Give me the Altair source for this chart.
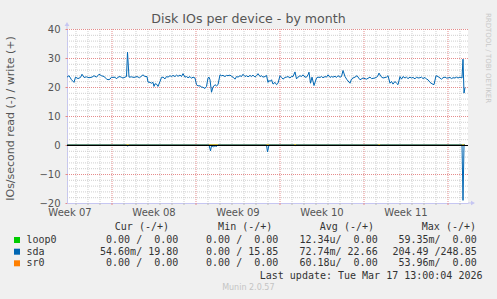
import altair as alt
import pandas as pd

# ---------------- data ----------------
title_text = "Disk IOs per device - by month"
y_title = "IOs/second read (-) / write (+)"
watermark = "RRDTOOL / TOBI OETIKER"
last_update = "Last update: Tue Mar 17 13:00:04 2026"
footer = "Munin 2.0.57"

# time axis: hours since Mon 2026-02-09 00:00 (start of ISO week 07)
x_domain = [79, 881]

# sda write (+)
write_hours = [79, 83, 88, 93, 96, 101, 106, 109, 113, 118, 123, 129, 133, 138, 143, 148, 153, 158, 161, 165,
               168, 171, 175, 178, 181, 185, 188, 191, 195, 198, 200, 203, 208, 213, 219, 224, 229, 231, 235, 239,
               241, 245, 248, 251, 253, 255, 258, 261, 265, 268, 271, 275, 278, 281, 285, 288, 291, 295, 298, 301,
               305, 308, 311, 315, 318, 321, 325, 328, 331, 335, 338, 341, 345, 348, 351, 355, 358, 361, 363, 365,
               368, 371, 375, 378, 381, 385, 388, 391, 395, 398, 401, 405, 408, 411, 415, 418, 421, 425, 428, 431,
               435, 438, 441, 445, 448, 451, 455, 458, 461, 465, 468, 471, 475, 478, 481, 483, 485, 488, 491, 495,
               498, 501, 505, 508, 511, 515, 518, 521, 525, 528, 531, 535, 538, 541, 545, 548, 551, 555, 558, 561,
               563, 566, 569, 573, 578, 581, 585, 588, 591, 595, 598, 601, 605, 608, 611, 615, 618, 621, 625, 628,
               631, 635, 639, 645, 648, 651, 655, 659, 665, 671, 678, 685, 688, 695, 700, 703, 707, 711, 718, 721,
               725, 728, 731, 735, 738, 741, 745, 748, 751, 755, 758, 761, 765, 768, 771, 775, 778, 781, 785, 788,
               791, 795, 798, 801, 805, 809, 813, 817, 821, 825, 828, 831, 835, 838, 841, 845, 848, 851, 855, 858,
               861, 865, 869, 871, 873, 875]
write_vals = [23.4, 23.9, 22.5, 21.6, 23.4, 22.9, 23.3, 24.4, 23.3, 23.5, 23.2, 23.4, 23.9, 23.4, 24.4, 23.9, 23.6, 22.8, 22.5, 22.7,
              23.4, 23.3, 23.4, 22.8, 23.4, 23.6, 23.3, 23.1, 23.4, 23.6, 32.0, 23.4, 23.5, 23.3, 23.6, 23.2, 23.9, 24.2, 23.6, 23.6,
              21.7, 21.6, 21.3, 21.6, 20.2, 21.1, 21.0, 20.2, 21.9, 23.3, 23.4, 22.8, 23.6, 23.4, 23.9, 23.6, 24.0, 23.6, 24.1, 23.7,
              24.1, 23.6, 24.6, 23.4, 23.6, 23.2, 23.6, 23.0, 23.4, 23.1, 20.8, 20.4, 20.4, 20.0, 19.9, 19.5, 20.2, 23.1, 23.4, 22.5,
              18.2, 20.0, 20.8, 20.4, 20.8, 24.2, 23.9, 24.0, 23.6, 24.0, 23.9, 24.1, 23.7, 23.4, 22.7, 23.6, 23.4, 23.9, 23.6, 24.4,
              23.6, 23.9, 23.5, 24.0, 23.6, 24.1, 23.4, 23.9, 24.6, 23.6, 23.9, 23.4, 23.6, 24.0, 21.6, 22.3, 21.9, 22.5, 21.0, 21.6,
              20.8, 21.3, 23.9, 23.3, 22.7, 23.3, 23.4, 23.6, 23.1, 23.7, 23.6, 25.2, 22.8, 23.4, 23.9, 23.6, 24.2, 23.4, 23.4, 24.2,
              25.1, 21.3, 23.4, 20.5, 23.1, 23.4, 23.3, 23.6, 23.2, 23.6, 23.4, 24.2, 23.3, 23.6, 23.4, 23.7, 23.3, 23.9, 23.4, 23.6,
              25.7, 23.6, 22.5, 21.3, 22.7, 23.1, 23.4, 23.9, 22.5, 23.1, 22.7, 23.4, 22.9, 23.1, 23.6, 24.8, 23.6, 23.1, 23.4, 23.9,
              21.3, 21.9, 21.0, 21.9, 21.3, 20.8, 23.6, 22.7, 23.6, 23.1, 23.4, 22.9, 23.4, 23.1, 23.3, 22.8, 23.4, 23.1, 23.2, 23.4,
              22.9, 23.3, 22.7, 22.5, 21.6, 21.1, 20.8, 23.9, 23.6, 23.1, 22.7, 23.2, 23.4, 23.1, 23.1, 23.3, 22.9, 23.2, 23.1, 23.4,
              23.1, 23.4, 23.1, 29.6, 17.9, 19.8]

# sda read (-), stored positive as munin does, drawn below zero
read_hours = [79, 198, 200, 203, 363, 366, 368, 372, 375, 378, 381, 478, 480, 483, 533, 535, 538, 701, 703, 706,
              869, 871, 873, 875]
read_vals = [0.0, 0.0, 0.4, 0.0, 0.0, 2.0, 0.3, 0.6, 0.3, 0.5, 0.0, 0.0, 2.4, 0.0, 0.0, 0.3, 0.0, 0.0, 0.3, 0.0,
             0.0, 19.1, 0.0, 0.05]

# loop0 and sr0 are flat at zero
flat_hours = [79, 875]
loop0_vals = [0.0, 0.0]
sr0_vals = [0.0, 0.0]

week_labels = ["Week 07", "Week 08", "Week 09", "Week 10", "Week 11"]
week_label_hours = [84, 252, 420, 588, 756]
week_start_hours = [168, 336, 504, 672, 840]
day_hours = [h for h in range(96, 881, 24) if h % 168 != 0]

y_major = [-20, -10, 0, 10, 20, 30, 40]
y_minor = [v for v in range(-20, 41, 2) if v % 10 != 0]

devices = ["loop0", "sda", "sr0"]
dev_colors = ["#00CC00", "#0066B3", "#FF8000"]
headers = ["Cur (-/+)", "Min (-/+)", "Avg (-/+)", "Max (-/+)"]
cur_vals = ["0.00 /  0.00", "54.60m/ 19.80", "0.00 /  0.00"]
min_vals = ["0.00 /  0.00", "0.00 / 15.85", "0.00 /  0.00"]
avg_vals = ["12.34u/  0.00", "72.74m/ 22.66", "60.18u/  0.00"]
max_vals = ["59.35m/  0.00", "204.49 /248.85", "53.96m/  0.00"]

# ---------------- layout ----------------
W, H = 401, 174
PAD = {"left": 67, "top": 29, "right": 497 - 67 - W, "bottom": 299 - 29 - H}
SANS = "DejaVu Sans"
MONO = "DejaVu Sans Mono"
AXIS_COL = "#C6C6F2"
MINOR_COL = "#CFCFCF"
MAJOR_COL = "#E58C8C"
TEXT_COL = "#555555"
LEG_COL = "#333333"
NBSP = "\u00a0"


def keep_spaces(s):
    return s.replace(" ", NBSP)


xs = alt.Scale(domain=x_domain, nice=False, zero=False)
ys = alt.Scale(domain=[-20, 40], nice=False, zero=False)

label_expr = "[" + ",".join(f"'{w}'" for w in week_labels) + \
    f"][round((datum.value - {week_label_hours[0]}) / 168)]"

y_axis = alt.Axis(values=y_major, grid=False, domainColor=AXIS_COL, tickColor=MAJOR_COL,
                  tickSize=2, labelPadding=5, labelFont=SANS, labelFontSize=10,
                  labelColor=TEXT_COL, labelOverlap=False, labelFlush=False,
                  title=y_title, titleFont=SANS, titleFontSize=11,
                  titleColor=TEXT_COL, titleFontWeight="normal", titleAngle=270,
                  titleX=-57, titleY=H / 2 + 2, titleAlign="center", titleBaseline="middle")
x_axis = alt.Axis(values=week_label_hours, labelExpr=label_expr, grid=False, ticks=False,
                  domainColor=AXIS_COL, labelPadding=4, labelFont=SANS, labelFontSize=10,
                  labelColor=TEXT_COL, labelOverlap=False, labelFlush=False, title=None)


def X(field):
    return alt.X(field, scale=xs, axis=x_axis)


def Y(field):
    return alt.Y(field, scale=ys, axis=y_axis)


# grid
hminor = alt.Chart(pd.DataFrame({"v": y_minor})).mark_rule(
    color=MINOR_COL, strokeDash=[1, 1], strokeWidth=1, yOffset=0.5).encode(y=Y("v:Q"))
hmajor = alt.Chart(pd.DataFrame({"v": y_major[1:]})).mark_rule(
    color=MAJOR_COL, strokeDash=[1, 1], strokeWidth=1, yOffset=0.5).encode(y=Y("v:Q"))
vminor = alt.Chart(pd.DataFrame({"h": day_hours})).mark_rule(
    color=MINOR_COL, strokeDash=[1, 1], strokeWidth=1, xOffset=0.5).encode(x=X("h:Q"))
vmajor = alt.Chart(pd.DataFrame({"h": week_start_hours})).mark_rule(
    color=MAJOR_COL, strokeDash=[1, 1], strokeWidth=1, xOffset=0.5).encode(x=X("h:Q"))
dticks = alt.Chart(pd.DataFrame({"h": day_hours})).mark_rule(color="#BBBBBB", xOffset=0.5).encode(
    x=X("h:Q"), y=alt.value(H), y2=alt.value(H + 2))
wticks = alt.Chart(pd.DataFrame({"h": week_start_hours})).mark_rule(color=MAJOR_COL, xOffset=0.5).encode(
    x=X("h:Q"), y=alt.value(H), y2=alt.value(H + 2))

# series
flat_df = pd.concat([
    pd.DataFrame({"h": flat_hours, "v": loop0_vals, "dev": "loop0"}),
    pd.DataFrame({"h": flat_hours, "v": sr0_vals, "dev": "sr0"}),
])
flat = alt.Chart(flat_df).mark_line(strokeWidth=1).encode(
    x=X("h:Q"), y=Y("v:Q"),
    color=alt.Color("dev:N", scale=alt.Scale(domain=["loop0", "sr0"],
                                             range=[dev_colors[0], dev_colors[2]]), legend=None))
sda_df = pd.concat([
    pd.DataFrame({"h": write_hours, "v": write_vals, "dir": "write"}),
    pd.DataFrame({"h": read_hours, "v": [-r for r in read_vals], "dir": "read"}),
])
sda = alt.Chart(sda_df).mark_line(color=dev_colors[1], strokeWidth=1).encode(
    x=X("h:Q"), y=Y("v:Q"), detail="dir:N")
zero = alt.Chart(pd.DataFrame({"v": [0]})).mark_rule(color="#000000", strokeWidth=1, yOffset=0.5).encode(
    y=Y("v:Q"))

# axis arrows
one = pd.DataFrame({"a": [0]})
arrow_up = alt.Chart(one).mark_point(shape="triangle-up", filled=True, color=AXIS_COL, size=22,
                                     opacity=1).encode(x=alt.value(0), y=alt.value(-5))
arrow_right = alt.Chart(one).mark_point(shape="triangle-right", filled=True, color=AXIS_COL, size=22,
                                        opacity=1).encode(x=alt.value(W + 5), y=alt.value(H))
axis_ext = alt.Chart(one).mark_rule(color=AXIS_COL).encode(
    x=alt.value(W), x2=alt.value(W + 3), y=alt.value(H))
axis_ext2 = alt.Chart(one).mark_rule(color=AXIS_COL).encode(
    x=alt.value(0), y=alt.value(-3), y2=alt.value(0))


# texts
def txt(s, x, y, size, font=SANS, color=TEXT_COL, align="left", baseline="middle", angle=0):
    return alt.Chart(pd.DataFrame({"t": [keep_spaces(s)]})).mark_text(
        font=font, fontSize=size, color=color, align=align, baseline=baseline, angle=angle).encode(
        text="t:N", x=alt.value(x), y=alt.value(y))


layers = [hminor, vminor, hmajor, vmajor, dticks, wticks, axis_ext, axis_ext2, flat, sda, zero,
          arrow_up, arrow_right]
layers.append(txt(title_text, 248.5 - 67, 23 - 29, 12.6, align="center", baseline="alphabetic"))
layers.append(txt(watermark, 488 - 67, 58 - 29, 7, color="#C8C8C8", align="center", angle=90))

header_right = [102, 205.3, 307, 409]
col_right = [111.3, 211.3, 310.7, 409.7]
for hdr, xr in zip(headers, header_right):
    layers.append(txt(hdr, xr, 198.3, 10, font=MONO, color=LEG_COL, align="right"))
row_y = [211, 222.7, 234.3]
cols = [cur_vals, min_vals, avg_vals, max_vals]
for i, dev in enumerate(devices):
    layers.append(alt.Chart(pd.DataFrame({"d": [dev]})).mark_square(
        color=dev_colors[i], size=36, opacity=1, filled=True).encode(
        x=alt.value(17 - 67), y=alt.value(row_y[i])))
    layers.append(txt(dev, 26.5 - 67, row_y[i], 10, font=MONO, color=LEG_COL))
    for col, xr in zip(cols, col_right):
        layers.append(txt(col[i], xr, row_y[i], 10, font=MONO, color=LEG_COL, align="right"))
layers.append(txt(last_update, 482.5 - 67, 246.7, 10, font=MONO, color=LEG_COL, align="right"))
layers.append(txt(footer, 248.3 - 67, 259.3, 8, color="#C4C4C4", align="center"))

chart = alt.layer(*layers).properties(
    width=W, height=H, autosize=alt.AutoSizeParams(type="none"), padding=PAD,
    background="#F0F0F0",
).configure_view(stroke=None, fill="#FFFFFF")

chart.save("out.html", embed_options={"renderer": "svg", "actions": False})
